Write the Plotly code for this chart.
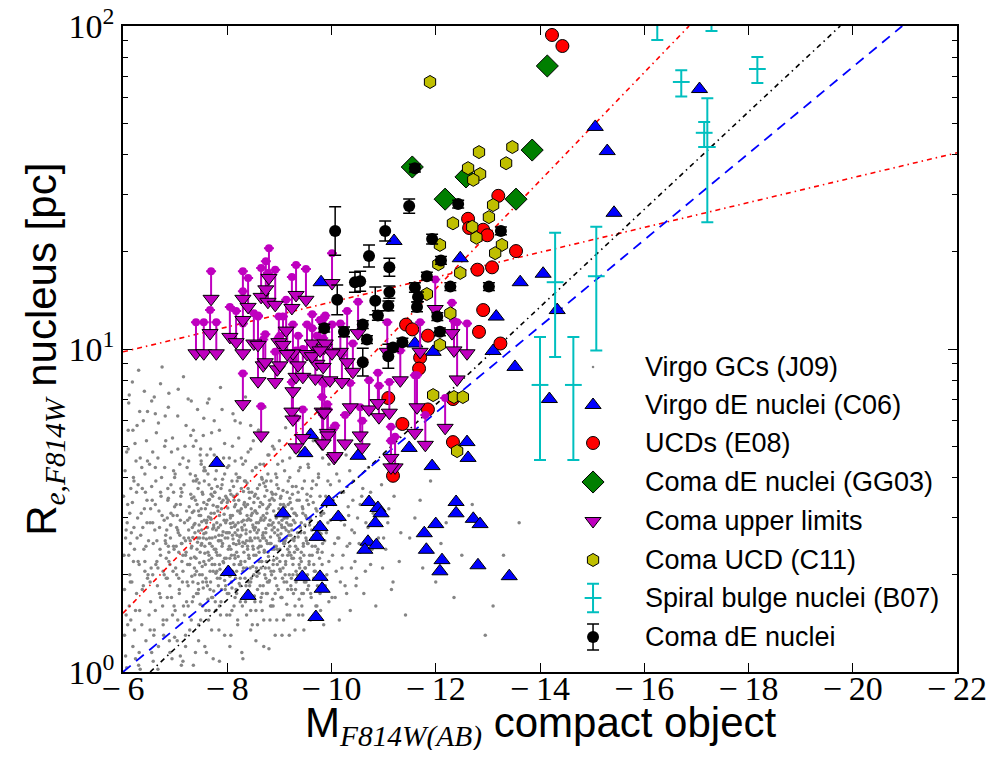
import plotly.graph_objects as go

# ---------------- data ----------------
# Virgo GCs (J09) - grey cloud (part 1)
gc_mag = [
 -6.05,-6.08,-6.1,-6.12,-6.15,-6.18,-6.2,-6.22,-6.25,-6.27,-6.3,-6.32,-6.35,-6.37,-6.4,-6.42,-6.44,-6.46,-6.48,-6.3,-6.15,-6.45,
 -6.52,-6.53,-6.55,-6.57,-6.58,-6.6,-6.62,-6.63,-6.65,-6.67,-6.68,-6.7,-6.72,-6.73,-6.75,-6.77,-6.78,-6.8,-6.82,-6.84,-6.85,-6.87,-6.88,-6.9,-6.92,-6.94,-6.95,-6.97,-6.98,-6.99,
 -7.01,-7.02,-7.04,-7.05,-7.06,-7.08,-7.09,-7.1,-7.12,-7.13,-7.15,-7.16,-7.18,-7.19,-7.2,-7.22,-7.23,-7.25,-7.26,-7.28,-7.29,-7.3,-7.32,-7.33,-7.35,-7.36,-7.38,-7.39,-7.4,-7.42,-7.43,-7.45,-7.46,-7.47,-7.48,-7.49,-7.44,-7.27,
 -7.51,-7.52,-7.53,-7.54,-7.55,-7.56,-7.57,-7.58,-7.59,-7.6,-7.61,-7.62,-7.63,-7.64,-7.65,-7.66,-7.67,-7.68,-7.69,-7.7,-7.71,-7.72,-7.73,-7.74,-7.75,-7.76,-7.77,-7.78,-7.79,-7.8,-7.81,-7.82,-7.83,-7.84,-7.85,-7.86,-7.87,-7.88,-7.89,-7.9,-7.92,-7.94,-7.95,-7.97,-7.99,
 -8.01,-8.02,-8.03,-8.04,-8.05,-8.06,-8.07,-8.08,-8.09,-8.1,-8.11,-8.12,-8.13,-8.14,-8.15,-8.16,-8.17,-8.18,-8.19,-8.2,-8.21,-8.22,-8.23,-8.24,-8.25,-8.26,-8.27,-8.28,-8.29,-8.3,-8.31,-8.32,-8.33,-8.34,-8.35,-8.36,-8.37,-8.38,-8.39,-8.4,-8.41,-8.42,-8.43,-8.44,-8.45,-8.46,-8.48,-8.49,
 -8.51,-8.52,-8.53,-8.54,-8.55,-8.56,-8.57,-8.58,-8.59,-8.6,-8.61,-8.62,-8.63,-8.64,-8.65,-8.66,-8.67,-8.68,-8.69,-8.7,-8.71,-8.72,-8.73,-8.74,-8.75,-8.76,-8.77,-8.78,-8.79,-8.8,-8.81,-8.82,-8.83,-8.84,-8.85,-8.86,-8.87,-8.88,-8.89,-8.9,-8.92,-8.93,-8.95,-8.97,-8.99,
 -9.01,-9.02,-9.03,-9.05,-9.06,-9.07,-9.08,-9.1,-9.11,-9.12,-9.14,-9.15,-9.16,-9.18,-9.19,-9.2,-9.22,-9.23,-9.24,-9.26,-9.27,-9.28,-9.3,-9.31,-9.32,-9.34,-9.35,-9.37,-9.38,-9.39,-9.4,-9.42,-9.43,-9.45,-9.46,-9.47,-9.48,-9.49,
 -9.51,-9.53,-9.54,-9.56,-9.57,-9.59,-9.6,-9.62,-9.63,-9.65,-9.66,-9.68,-9.7,-9.72,-9.73,-9.75,-9.77,-9.78,-9.8,-9.82,-9.83,-9.85,-9.87,-9.89,-9.91,-9.93,-9.95,-9.98,
 -10.02,-10.04,-10.07,-10.1,-10.12,-10.15,-10.18,-10.2,-10.23,-10.26,-10.28,-10.3,-10.33,-10.36,-10.39,-10.42,-10.45,-10.48,
 -10.53,-10.58,-10.62,-10.66,-10.71,-10.75,-10.8,-10.85,-10.9,-10.96,
 -11.04,-11.1,-11.18,-11.25,-11.33,-11.42,
 -11.6,-11.75,-11.9,-12.1,-12.35,
 -12.7,-12.95,-13.3]
gc_re = [
 1.12,2.9,5.6,1.6,3.7,7.9,2.2,1.35,4.5,2.6,1.05,6.4,3.1,1.8,2.4,4.1,1.25,3.4,2.0,8.6,1.45,5.2,
 1.9,3.2,1.15,4.8,2.5,7.1,1.55,3.9,2.2,1.02,5.9,2.8,1.7,3.5,8.8,2.05,1.3,4.3,2.65,1.45,3.0,6.6,2.35,1.85,3.8,1.1,5.3,2.45,1.6,4.0,
 2.1,3.3,1.25,6.2,2.7,1.75,4.4,2.95,1.05,3.6,2.3,8.2,1.5,5.0,2.55,3.15,1.9,7.0,2.75,1.35,4.1,2.25,3.45,1.65,5.6,2.85,2.0,1.15,3.9,2.4,6.5,1.8,3.05,2.6,4.7,1.45,3.7,2.15,
 2.5,3.6,1.6,5.4,2.2,2.95,1.2,4.2,2.7,1.9,3.3,6.8,2.35,1.45,3.8,2.6,2.05,4.9,3.1,1.7,2.45,3.5,1.1,2.85,6.0,2.15,3.95,1.55,2.75,3.25,1.95,4.5,2.55,1.35,3.05,2.3,7.6,3.7,1.8,2.65,3.4,2.0,5.1,2.9,1.5,
 2.6,3.4,1.75,4.6,2.25,3.0,1.3,2.8,3.9,2.05,6.3,2.5,1.6,3.25,2.7,1.95,4.1,2.35,3.55,1.45,2.9,5.3,2.15,3.15,1.85,2.65,3.7,1.15,2.45,4.4,2.95,1.7,3.35,2.2,7.1,2.75,1.5,3.05,2.4,4.8,1.9,3.6,2.55,2.1,5.8,3.2,1.4,2.85,
 2.3,3.5,1.65,2.8,4.3,2.05,3.1,1.4,2.6,5.6,2.2,3.8,1.85,2.95,2.45,4.0,1.55,3.3,2.7,1.2,2.35,6.6,3.0,1.95,2.55,3.65,1.75,4.7,2.85,2.1,3.4,1.45,2.5,3.9,2.0,2.75,5.0,1.6,3.15,2.4,1.3,3.55,2.25,4.4,2.9,
 2.4,3.3,1.7,2.8,4.5,2.1,1.45,3.0,2.55,5.7,1.9,3.6,2.3,2.85,1.3,4.0,2.65,1.8,3.2,2.15,2.95,6.2,1.6,2.45,3.75,2.0,2.7,1.5,3.4,4.8,2.25,2.9,1.75,3.1,2.5,1.35,3.9,2.1,
 2.6,3.4,1.8,4.3,2.2,2.95,1.45,3.7,2.45,5.2,1.95,2.8,3.2,1.6,2.35,4.0,2.7,1.75,3.05,2.15,4.6,1.4,2.55,3.5,2.0,2.9,1.65,3.8,
 2.3,3.3,1.7,4.1,2.6,1.45,2.95,2.1,3.6,1.85,4.7,2.45,3.05,1.55,2.75,3.9,2.2,1.95,
 2.5,3.5,1.75,2.9,4.3,2.15,3.1,1.6,2.6,3.8,
 2.4,3.2,1.9,4.1,2.7,1.5,
 3.0,2.1,3.9,2.5,1.7,
 3.3,1.3,2.3]

# Virgo GCs (J09) - grey cloud (part 2: dense core, left wing, right tail)
gc_mag2 = [
 -7.31,-7.32,-7.33,-7.34,-7.35,-7.36,-7.37,-7.38,-7.39,-7.41,-7.42,-7.43,-7.44,-7.45,-7.46,-7.47,-7.48,-7.49,-7.5,-7.5,
 -7.51,-7.52,-7.53,-7.54,-7.55,-7.56,-7.57,-7.58,-7.59,-7.6,-7.61,-7.62,-7.63,-7.64,-7.65,-7.66,-7.67,-7.68,-7.69,-7.7,
 -7.71,-7.72,-7.73,-7.74,-7.75,-7.76,-7.77,-7.78,-7.79,-7.8,-7.81,-7.82,-7.83,-7.84,-7.85,-7.86,-7.87,-7.88,-7.89,-7.9,
 -7.91,-7.92,-7.93,-7.94,-7.95,-7.96,-7.97,-7.98,-7.99,-8.0,-8.01,-8.02,-8.03,-8.04,-8.05,-8.06,-8.07,-8.08,-8.09,-8.1,
 -8.11,-8.12,-8.13,-8.14,-8.15,-8.16,-8.17,-8.18,-8.19,-8.2,-8.21,-8.22,-8.23,-8.24,-8.25,-8.26,-8.27,-8.28,-8.29,-8.3,
 -8.31,-8.32,-8.33,-8.34,-8.35,-8.36,-8.37,-8.38,-8.39,-8.4,-8.41,-8.42,-8.43,-8.44,-8.45,-8.46,-8.47,-8.48,-8.49,-8.5,
 -8.51,-8.52,-8.53,-8.54,-8.55,-8.56,-8.57,-8.58,-8.59,-8.6,-8.61,-8.62,-8.63,-8.64,-8.65,-8.66,-8.67,-8.68,-8.69,-8.7,
 -8.71,-8.72,-8.73,-8.74,-8.75,-8.76,-8.77,-8.78,-8.79,-8.8,-8.81,-8.82,-8.83,-8.84,-8.85,-8.86,-8.87,-8.88,-8.89,-8.9,
 -8.91,-8.92,-8.93,-8.94,-8.95,-8.96,-8.97,-8.98,-8.99,-9.0,-9.01,-9.02,-9.03,-9.04,-9.05,-9.06,-9.07,-9.08,-9.09,-9.1,
 -9.11,-9.12,-9.13,-9.14,-9.15,-9.16,-9.17,-9.18,-9.19,-9.2,-9.21,-9.22,-9.23,-9.24,-9.25,-9.26,-9.27,-9.28,-9.29,-9.3,
 -9.32,-9.34,-9.36,-9.38,-9.4,-9.42,-9.44,-9.46,-9.48,-9.5,-9.52,-9.54,-9.56,-9.58,-9.6,-9.62,-9.64,-9.66,-9.68,-9.7,
 -9.72,-9.74,-9.76,-9.78,-9.8,
 -6.02,-6.04,-6.06,-6.09,-6.11,-6.13,-6.16,-6.19,-6.21,-6.23,-6.26,-6.28,-6.31,-6.33,-6.36,-6.38,-6.41,-6.43,-6.47,-6.49,
 -6.51,-6.54,-6.56,-6.59,-6.61,-6.64,-6.66,-6.69,-6.71,-6.74,-6.76,-6.79,-6.81,-6.83,-6.86,-6.89,-6.91,-6.93,-6.96,-6.99,
 -7.0,-7.03,-7.05,-7.07,-7.11,-7.14,-7.17,-7.21,-7.24,-7.28,-6.07,-6.24,-6.39,-6.58,-6.72,-6.9,-7.06,-7.2,-7.31,-7.15,
 -6.14,-6.29,-6.46,-6.62,-6.79,-6.97,-7.12,-7.26,-6.53,-6.85,
 -9.82,-9.85,-9.88,-9.9,-9.93,-9.95,-9.98,-10.01,-10.03,-10.06,-10.09,-10.11,-10.14,-10.17,-10.19,-10.22,-10.25,-10.29,-10.32,-10.35,
 -10.38,-10.41,-10.44,-10.47,-10.5,-10.55,-10.6,-10.65,-10.7,-10.78,-10.88,-10.98,-11.08,-11.2,-11.3,
 -7.1,-7.35,-7.6,-7.85,-8.05,-8.3,-8.55,-8.8,-9.05,-9.3,
 -7.4,-7.55,-7.7,-7.9,-8.1,-8.25,-8.45,-8.6,-8.8,-9.0,-9.2,-9.4]
gc_re2 = [
 2.42,1.98,3.12,2.61,1.71,3.48,2.27,2.88,4.05,2.05,3.3,2.52,1.88,2.73,3.85,2.18,1.62,3.05,2.47,4.4,
 2.92,2.12,3.55,1.82,2.68,3.9,2.33,3.2,1.95,2.58,4.7,2.8,1.68,3.02,2.22,3.42,2.5,1.9,2.97,3.7,
 2.15,2.77,3.28,1.78,2.4,3.6,2.62,2.02,4.2,2.9,2.3,3.15,1.85,2.55,3.45,2.08,2.85,1.65,3.35,2.45,
 3.95,2.72,2.18,3.08,1.92,2.6,3.5,2.25,2.95,1.75,3.22,2.4,4.35,2.7,1.98,2.88,3.55,2.3,1.82,3.05,
 2.58,3.75,2.15,2.82,1.7,3.3,2.48,2.05,3.9,2.75,2.28,3.4,1.88,2.62,3.1,2.2,4.6,2.92,1.6,2.52,
 3.62,2.35,2.85,1.95,3.25,2.68,2.1,3.85,2.45,1.78,2.98,2.25,3.45,2.72,1.9,3.05,2.55,4.2,2.12,2.8,
 3.35,1.72,2.6,3.15,2.3,2.9,1.98,3.7,2.42,2.75,2.02,3.25,2.55,1.65,3.0,2.2,3.95,2.65,1.85,2.95,
 2.38,3.5,2.1,2.78,1.75,3.1,2.5,4.1,2.28,2.85,1.92,3.3,2.62,2.05,3.6,2.4,1.68,2.9,2.22,3.4,
 2.7,1.95,3.05,2.45,3.8,2.15,2.75,1.8,3.2,2.55,2.08,3.45,2.68,1.7,2.95,2.3,3.65,2.5,1.9,2.8,
 3.25,2.15,2.6,1.62,3.0,2.4,3.9,2.72,2.0,2.45,3.35,1.85,2.85,2.25,3.55,2.58,1.75,3.1,2.35,2.9,
 2.05,3.4,2.62,1.68,2.8,2.2,3.7,2.45,1.9,3.05,2.55,2.0,3.3,2.3,1.75,2.75,3.9,2.15,2.6,1.6,
 3.15,2.4,2.02,3.5,2.68,
 2.3,4.2,1.5,3.3,6.8,2.0,2.7,1.2,3.9,5.1,1.75,3.0,2.15,4.6,1.4,2.8,7.4,3.6,1.95,2.55,
 4.4,2.1,3.4,1.3,2.75,5.5,1.85,3.15,2.4,4.0,1.6,2.95,6.2,2.25,3.7,1.25,2.6,4.8,2.05,3.25,
 1.55,2.8,4.9,2.35,3.5,1.9,2.6,5.8,2.15,3.0,1.03,1.1,6.0,1.08,7.8,1.15,7.5,1.2,6.9,1.08,
 2.5,3.8,2.9,4.3,2.0,3.6,2.5,4.5,1.65,1.7,
 2.35,3.1,1.85,2.7,3.9,2.2,2.95,1.7,3.4,2.5,2.05,3.0,2.6,1.9,3.6,2.3,2.85,1.75,3.25,2.5,
 2.1,3.4,2.7,1.85,3.0,2.35,3.7,2.05,2.8,2.4,3.3,2.1,2.9,3.5,2.2,
 1.12,1.05,1.15,1.08,1.2,1.1,1.25,1.18,1.3,1.35,
 5.2,6.1,5.5,6.5,5.0,5.9,4.9,5.6,4.7,5.2,4.6,4.3]

# Virgo GCs (J09) - grey cloud (part 3: more of the dense body)
gc_mag3 = [
 -7.02,-7.04,-7.07,-7.09,-7.11,-7.13,-7.16,-7.18,-7.21,-7.23,-7.25,-7.27,-7.29,-7.31,-7.33,-7.35,-7.37,-7.39,-7.41,-7.43,
 -7.45,-7.47,-7.49,-7.51,-7.53,-7.55,-7.57,-7.59,-7.61,-7.63,-7.65,-7.67,-7.69,-7.71,-7.73,-7.75,-7.77,-7.79,-7.81,-7.83,
 -7.85,-7.87,-7.89,-7.91,-7.93,-7.95,-7.97,-7.99,-8.01,-8.03,-8.05,-8.07,-8.09,-8.11,-8.13,-8.15,-8.17,-8.19,-8.21,-8.23,
 -8.25,-8.27,-8.29,-8.31,-8.33,-8.35,-8.37,-8.39,-8.41,-8.43,-8.45,-8.47,-8.49,-8.51,-8.53,-8.55,-8.57,-8.59,-8.61,-8.63,
 -8.65,-8.67,-8.69,-8.71,-8.73,-8.75,-8.77,-8.79,-8.81,-8.83,-8.85,-8.87,-8.89,-8.91,-8.93,-8.95,-8.97,-8.99,-9.01,-9.03,
 -9.05,-9.07,-9.09,-9.11,-9.13,-9.15,-9.17,-9.19,-9.21,-9.23,-9.25,-9.27,-9.29,-9.31,-9.33,-9.35,-9.37,-9.39,-9.41,-9.43,
 -9.45,-9.47,-9.49,-9.51,-9.53,-9.55,-9.57,-9.59,-9.61,-9.63,-9.65,-9.67,-9.69,-9.71,-9.73,-9.75,-9.77,-9.79,-9.81,-9.83,
 -6.01,-6.03,-6.05,-6.07,-6.09,-6.11,-6.13,-6.17,-6.19,-6.21,-6.24,-6.26,-6.29,-6.31,-6.34,-6.36,-6.39,-6.41,-6.44,-6.47,
 -6.5,-6.52,-6.55,-6.57,-6.6,-6.62,-6.65,-6.67,-6.7,-6.72,-6.75,-6.77,-6.8,-6.82,-6.85,-6.87,-6.9,-6.92,-6.95,-6.97,
 -6.12,-6.33,-6.55,-6.68,-6.88,-6.99,-6.2,-6.42,-6.63,-6.84,
 -7.2,-7.45,-7.7,-7.95,-8.2,-8.45,-8.7,-8.95,-9.2,-9.45,
 -7.3,-7.5,-7.65,-7.85,-8.0,-8.15,-8.35,-8.5,-8.7,-8.9,
 -9.1,-9.3,-9.55,-9.75,-9.95,-10.15,-10.35,-10.55,-10.75,-11.0,
 -11.15,-11.5,-11.7,-12.0,-12.2,-12.5,-13.1,-13.6]
gc_re3 = [
 2.45,3.05,1.95,2.65,3.7,2.2,1.6,2.9,2.35,4.3,1.85,3.25,2.55,1.45,2.8,3.9,2.1,3.4,1.75,2.6,
 3.15,2.0,4.9,2.75,1.9,3.35,2.45,1.55,2.95,4.1,2.3,1.8,3.55,2.6,2.05,3.1,1.65,2.35,3.75,2.8,
 2.15,1.5,3.2,2.5,4.6,2.25,1.85,3.45,2.7,2.0,3.65,2.4,1.55,2.9,3.4,2.25,1.8,2.65,4.0,2.5,
 1.95,3.2,2.75,2.1,3.9,1.65,2.55,3.3,2.3,1.85,2.95,3.6,2.45,2.0,3.15,1.55,2.7,3.45,2.35,4.4,
 2.1,1.75,3.05,2.6,3.75,2.2,1.9,3.25,2.5,1.6,2.85,3.55,2.05,2.45,4.1,1.85,2.65,3.1,2.2,3.5,
 1.7,2.55,3.0,2.0,2.75,1.5,3.3,2.35,2.85,1.95,3.75,2.25,2.6,1.8,3.05,2.4,4.2,2.1,2.7,1.6,
 3.2,2.3,2.85,1.9,3.55,2.5,2.15,3.0,1.7,2.6,3.35,2.05,2.45,3.8,1.85,2.9,2.25,1.55,3.1,2.5,
 3.5,1.8,2.6,4.8,1.4,2.3,3.1,1.9,5.6,2.8,1.55,3.6,2.2,1.15,2.65,4.3,1.85,3.2,2.45,6.4,
 1.5,2.9,3.75,2.0,1.35,3.3,2.55,4.6,1.75,2.3,3.05,1.4,5.0,2.5,1.95,3.45,2.15,2.85,1.5,4.2,
 7.2,1.02,6.9,1.2,7.3,1.28,4.0,2.05,2.15,2.75,
 1.3,1.25,1.35,1.3,1.4,1.35,1.45,1.45,1.5,1.5,
 5.4,4.5,7.0,5.6,4.3,6.0,4.5,5.2,4.4,4.9,
 4.2,4.8,4.4,4.1,4.4,3.9,4.2,3.3,3.6,2.6,
 1.8,2.6,3.4,1.9,2.9,2.3,1.6,2.9]

# Virgo GCs (J09) - grey cloud (part 4: filling the core)
gc_mag4 = [
 -6.81,-6.83,-6.86,-6.88,-6.91,-6.93,-6.96,-6.98,-7.0,-7.03,
 -7.05,-7.08,-7.1,-7.13,-7.15,-7.17,-7.2,-7.22,-7.24,-7.26,
 -7.28,-7.3,-7.32,-7.34,-7.36,-7.38,-7.4,-7.42,-7.44,-7.46,
 -7.48,-7.5,-7.52,-7.54,-7.56,-7.58,-7.6,-7.62,-7.64,-7.66,
 -7.68,-7.7,-7.72,-7.74,-7.76,-7.78,-7.8,-7.82,-7.84,-7.86,
 -7.88,-7.9,-7.92,-7.94,-7.96,-7.98,-8.0,-8.02,-8.04,-8.06,
 -8.08,-8.1,-8.12,-8.14,-8.16,-8.18,-8.2,-8.22,-8.24,-8.26,
 -8.28,-8.3,-8.32,-8.34,-8.36,-8.38,-8.4,-8.42,-8.44,-8.46,
 -8.48,-8.5,-8.52,-8.54,-8.56,-8.58,-8.6,-8.62,-8.64,-8.66,
 -8.68,-8.7,-8.72,-8.74,-8.76,-8.78,-8.8,-8.82,-8.84,-8.86,
 -8.88,-8.9,-8.92,-8.94,-8.96,-8.98,-9.0,-9.02,-9.04,-9.06,
 -9.08,-9.1,-9.12,-9.14,-9.16,-9.18,-9.2,-9.22,-9.24,-9.26,
 -9.28,-9.3,-9.32,-9.34,-9.36,-9.38,-9.4,-9.42,-9.44,-9.46,
 -9.48,-9.5,-9.52,-9.54,-9.56,-9.58,-9.6,-9.63,-9.66,-9.69,
 -6.03,-6.06,-6.1,-6.14,-6.18,-6.22,-6.27,-6.32,-6.37,-6.42,
 -6.47,-6.52,-6.57,-6.62,-6.67,-6.72,-6.77,-6.82,-6.87,-6.92,
 -7.05,-7.25,-7.45,-7.65,-7.85,-8.05,-8.25,-8.45,-8.65,-8.85,
 -7.15,-7.35,-7.55,-7.75,-7.95,-8.15,-8.35,-8.55,-8.75,-8.95]
gc_re4 = [
 2.55,1.95,3.4,2.2,2.85,1.7,3.05,2.4,4.1,2.0,
 2.75,1.8,3.3,2.5,2.05,3.8,2.3,1.65,2.95,2.6,
 2.15,3.55,2.45,1.9,3.15,2.7,2.25,3.95,1.75,2.85,
 2.35,3.2,2.0,2.6,4.3,2.15,2.9,1.85,3.4,2.5,
 3.0,2.25,1.7,2.8,3.6,2.4,2.05,3.25,2.65,1.95,
 2.55,3.8,2.2,2.95,1.8,2.7,3.35,2.1,2.45,3.05,
 1.9,2.65,3.5,2.3,2.85,1.75,3.15,2.55,4.0,2.15,
 2.8,2.05,3.3,2.5,1.85,2.95,3.7,2.25,2.6,1.95,
 3.1,2.4,2.75,3.55,2.1,1.8,2.9,2.45,3.35,2.2,
 2.6,3.85,2.0,2.7,3.2,2.35,1.9,2.95,2.5,3.45,
 2.15,2.8,1.75,3.0,2.4,3.7,2.6,2.05,2.85,1.95,
 3.3,2.5,2.2,2.9,1.8,2.65,3.45,2.3,2.75,2.0,
 2.55,3.1,1.9,2.4,3.6,2.15,2.8,2.35,3.25,1.75,
 2.7,2.1,3.0,2.5,1.85,2.85,3.5,2.3,2.65,2.05,
 1.3,2.75,4.9,1.9,3.35,2.4,5.8,1.55,3.7,2.2,
 4.5,1.35,2.9,6.3,2.1,3.6,1.45,5.2,2.45,3.1,
 1.45,1.6,1.4,1.55,1.6,1.5,1.65,1.55,1.7,1.6,
 4.6,5.0,4.2,4.7,4.1,4.5,3.9,4.3,3.9,4.0]

# Virgo dE nuclei (C06)
c06_mag = [-17.06,-15.06,-15.29,-15.42,-14.06,-13.62,-14.33,-13.16,-12.47,-11.2,-9.8,-13.1,-13.52,-14.18,-12.6,-12.62,
           -11.6,-11.95,-11.49,-11.93,-10.51,-7.8,-9.07,-8.02,-8.4,-9.49,-9.6,-9.95,-10.13,-9.78,-9.72,-9.44,-9.78,-9.82,
           -9.7,-10.72,-10.89,-10.95,-10.84,-10.7,-10.64,-10.86,-12.39,-12.39,-12.0,-11.78,-11.82,-12.12,-12.08,-12.72,
           -12.85,-12.81,-13.41]
c06_re = [63.8,48.7,41.0,26.4,17.1,16.1,13.2,12.6,19.1,21.6,16.1,9.86,8.8,7.0,5.15,4.6,
          10.4,9.8,4.94,4.34,4.67,4.44,3.1,2.04,1.72,4.76,5.42,3.36,3.02,2.81,2.62,1.97,1.97,1.81,
          1.48,3.36,3.22,3.1,2.89,2.53,2.39,2.47,3.36,3.1,2.87,2.69,2.39,2.22,2.05,2.98,
          2.87,2.14,1.98]

# UCDs (E08)
e08_mag = [-14.23,-14.43,-13.2,-12.62,-12.64,-12.91,-12.99,-13.54,-12.8,-13.08,-12.91,-12.83,-13.24,-12.33,-12.33,
           -11.43,-11.55,-11.85,-11.7,-11.68,-11.09,-11.85,-11.36,-11.18]
e08_re = [93.8,86.7,29.8,25.3,23.7,23.4,22.5,20.1,17.6,17.9,13.2,11.3,10.4,7.0,5.15,
          11.9,11.5,11.0,9.4,8.7,7.05,6.5,5.86,4.05]

# Coma dE nuclei (GG03)
gg03_mag = [-14.14,-13.85,-11.55,-12.58,-12.18,-13.54]
gg03_re = [75.2,41.3,36.6,34.1,29.1,29.1]

# Coma upper limits: triangle value and top of the bar
ul_mag = [-7.69,-7.67,-7.40,-7.55,-7.79,-8.05,-8.17,-8.30,-8.40,-8.30,-8.30,-8.51,-8.59,-8.30,-8.65,-8.59,-8.69,
          -8.65,-8.74,-8.80,-8.78,-8.92,-8.99,-8.96,-8.92,-9.07,-9.24,-9.32,-9.51,-9.26,-9.32,-9.26,-9.24,-9.26,
          -9.45,-9.53,-9.63,-9.72,-9.82,-9.45,-9.32,-9.82,-10.05,-9.92,-9.97,-9.86,-10.01,-10.51,-11.07,-11.32,
          -11.70,-11.99,-10.17,-10.30,-10.41,-9.88,-10.01,-9.84,-10.20,-10.36,-10.72,-10.89,-10.91,-11.11,-9.86,
          -9.93,-10.26,-10.55,-10.59,-10.07,-9.84,-11.14,-11.22,-11.14,-11.60,-11.80,-12.18,-11.64,-12.31,-12.35,
          -12.60,-12.41,-9.15,-9.36,-9.63,-9.78,-9.69,-9.01,-8.73,-9.13]
ul_re = [14.3,11.2,9.7,9.7,9.7,10.9,10.5,14.3,13.5,12.3,9.7,10.4,10.3,6.75,5.4,7.95,8.9,
         14.5,15.3,16.6,14.0,13.7,10.5,8.65,7.9,10.3,13.4,14.7,14.2,9.7,8.2,7.4,6.4,6.05,
         8.2,9.65,10.4,9.0,6.4,5.3,4.96,5.1,4.6,5.5,8.0,10.1,16.0,11.2,9.8,8.0,
         9.8,13.3,9.8,9.1,8.5,10.4,9.7,8.8,7.9,6.6,6.5,6.8,6.15,6.35,6.35,
         5.4,5.1,5.4,4.96,4.66,5.1,4.6,4.3,4.3,5.5,5.05,5.7,6.6,11.2,9.9,
         9.7,8.05,9.65,8.9,9.5,9.9,8.1,8.9,9.1,11.4]
ul_top = [17.4,13.2,12.1,12.1,12.1,13.5,13.1,17.4,16.6,15.1,12.0,12.9,12.7,8.4,6.65,12.6,10.7,
          17.8,18.7,20.5,17.2,17.6,12.6,10.7,9.8,12.6,16.7,18.2,17.7,11.9,9.9,9.2,7.9,7.4,
          10.0,11.9,12.8,11.0,7.9,6.5,6.1,7.1,5.7,6.75,9.8,12.5,19.8,14.0,12.1,9.9,
          12.1,16.4,12.0,13.1,10.4,12.7,11.9,10.8,9.6,7.85,8.0,8.45,7.7,7.9,7.8,
          6.5,6.25,6.6,6.0,5.8,6.25,5.75,5.35,5.2,8.3,6.25,7.05,8.3,13.9,12.2,
          12.0,12.1,11.4,11.0,11.6,12.3,9.9,11.0,11.1,14.2]

# Coma UCD (C11)
c11_mag = [-11.89,-12.83,-13.47,-13.35,-12.62,-12.85,-12.72,-13.1,-13.02,-12.33,-12.7,-12.78,-13.27,-13.14,
           -12.08,-12.05,-12.47,-11.83,-12.28,-12.08,-11.95,-12.35,-12.52,-12.41]
c11_re = [67.1,40.7,42.2,37.6,36.3,34.8,33.4,27.9,25.6,24.5,23.9,22.1,21.0,19.8,
          21.0,18.3,17.2,14.8,12.9,10.3,7.2,7.1,7.1,4.83]

# Spiral bulge nuclei (B07): value, upper end, lower end
b07_mag = [-16.25,-17.29,-16.71,-18.17,-17.21,-17.15,-14.0,-14.29,-14.64,-15.08]
b07_re = [105,104,67.1,73.6,42.2,46.7,7.74,16.1,7.74,16.8]
b07_hi = [120,112,72.9,80.2,59.8,50.4,10.9,22.9,10.9,23.9]
b07_lo = [90.5,96.5,60.5,66.6,24.7,42.2,4.53,9.44,4.53,9.9]

# Coma dE nuclei (this work), error in dex
coma_mag = [-11.6,-11.49,-12.43,-10.07,-11.03,-13.25,-11.93,-10.72,-12.1,-11.11,-11.83,-10.45,-10.55,-11.6,
            -12.28,-13.02,-11.11,-11.66,-10.11,-10.84,-11.09,-11.64,-10.89,-12.03,-9.86,-10.24,-10.6,-10.68,
            -11.36,-11.18,-12.08,-10.6,-11.09]
coma_re = [36.3,27.7,28.1,23.2,23.2,23.2,21.9,19.4,18.8,17.9,16.8,16.1,16.2,15.5,
           15.6,15.6,15.0,14.5,14.2,14.1,13.6,13.5,12.7,12.6,11.6,11.3,11.9,10.7,
           10.5,10.1,11.3,9.1,9.5]
coma_err_dex = [0.012,0.022,0.012,0.075,0.031,0.012,0.015,0.034,0.012,0.028,0.012,0.031,0.031,0.015,
                0.012,0.012,0.019,0.015,0.046,0.043,0.015,0.015,0.015,0.012,0.012,0.015,0.012,0.012,
                0.012,0.012,0.012,0.043,0.037]

# model relations (end points)
red_steep_mag = [-6.0, -16.86]; red_steep_re = [1.52, 100.0]
red_flat_mag = [-6.0, -22.0]; red_flat_re = [9.8, 40.5]
black_mag = [-6.52, -19.76]; black_re = [1.0, 100.0]
blue_mag = [-6.0, -20.95]; blue_re = [1.0, 100.0]

x_ticks = [-6, -8, -10, -12, -14, -16, -18, -20, -22]
x_ticktext = ["\u2212\u2009" + str(abs(v)) for v in x_ticks]
y_ticks = [1, 10, 100]
y_ticktext = ["10<sup>0</sup>", "10<sup>1</sup>", "10<sup>2</sup>"]

legend_labels = ["Virgo GCs (J09)", "Virgo dE nuclei (C06)", "UCDs (E08)", "Coma dE nuclei (GG03)",
                 "Coma upper limits", "Coma UCD (C11)", "Spiral bulge nuclei (B07)", "Coma dE nuclei"]

# ---------------- styles ----------------
BLUE = "#0000FF"; RED = "#FF0000"; GREEN = "#007F00"; MAG = "#BF00BF"; YEL = "#BFBF00"; CYAN = "#00BFBF"
GREY = "#858585"
EDGE = dict(color="black", width=1)

fig = go.Figure()

fig.add_trace(go.Scatter(x=gc_mag + gc_mag2 + gc_mag3 + gc_mag4, y=gc_re + gc_re2 + gc_re3 + gc_re4,
                         mode="markers", marker=dict(size=3.5, color=GREY, line=dict(width=0))))

for mx, ry, col, dash, w in [(red_steep_mag, red_steep_re, RED, "5px,4px,1.5px,4px", 1.6),
                             (red_flat_mag, red_flat_re, RED, "5px,4px,1.5px,4px", 1.6),
                             (black_mag, black_re, "black", "5px,4px,1.5px,4px", 1.6),
                             (blue_mag, blue_re, BLUE, "10px,7px", 1.8)]:
    fig.add_trace(go.Scatter(x=mx, y=ry, mode="lines", line=dict(color=col, width=w, dash=dash)))

fig.add_trace(go.Scatter(x=c06_mag, y=c06_re, mode="markers",
                         marker=dict(symbol="triangle-up", size=14, color=BLUE, line=EDGE)))
fig.add_trace(go.Scatter(x=e08_mag, y=e08_re, mode="markers",
                         marker=dict(symbol="circle", size=13, color=RED, line=EDGE)))
fig.add_trace(go.Scatter(x=gg03_mag, y=gg03_re, mode="markers",
                         marker=dict(symbol="diamond", size=17, color=GREEN, line=EDGE)))

ul_minus = [t - r for t, r in zip(ul_top, ul_re)]
fig.add_trace(go.Scatter(x=ul_mag, y=ul_top, mode="markers",
                         marker=dict(symbol="circle", size=8, color=MAG, line=dict(width=0)),
                         error_y=dict(type="data", symmetric=False, array=[0] * len(ul_top),
                                      arrayminus=ul_minus, color=MAG, thickness=2, width=5)))
fig.add_trace(go.Scatter(x=ul_mag, y=ul_re, mode="markers",
                         marker=dict(symbol="triangle-down", size=14, color=MAG, line=EDGE)))

fig.add_trace(go.Scatter(x=c11_mag, y=c11_re, mode="markers",
                         marker=dict(symbol="hexagon", size=13, color=YEL, line=EDGE)))

fig.add_trace(go.Scatter(x=b07_mag, y=b07_re, mode="markers",
                         marker=dict(symbol="line-ew", size=12, color=CYAN, line=dict(color=CYAN, width=2)),
                         error_y=dict(type="data", symmetric=False,
                                      array=[h - v for h, v in zip(b07_hi, b07_re)],
                                      arrayminus=[v - l for v, l in zip(b07_re, b07_lo)],
                                      color=CYAN, thickness=2, width=6)))

coma_plus = [r * (10 ** d - 1) for r, d in zip(coma_re, coma_err_dex)]
coma_minus = [r * (1 - 10 ** (-d)) for r, d in zip(coma_re, coma_err_dex)]
fig.add_trace(go.Scatter(x=coma_mag, y=coma_re, mode="markers",
                         marker=dict(symbol="circle", size=12, color="black", line=dict(width=0)),
                         error_y=dict(type="data", symmetric=False, array=coma_plus, arrayminus=coma_minus,
                                      color="black", thickness=1.5, width=6)))

# ---------------- hand-made legend (overlay axes in [0,1]) ----------------
leg_x = 0.5636
leg_tx = 0.6235
leg_y = [0.4721, 0.4133, 0.3545, 0.2941, 0.2337, 0.1734, 0.1146, 0.0542]
leg_markers = [dict(symbol="circle", size=2.6, color=GREY, line=dict(width=0)),
               dict(symbol="triangle-up", size=14, color=BLUE, line=EDGE),
               dict(symbol="circle", size=13, color=RED, line=EDGE),
               dict(symbol="diamond", size=17, color=GREEN, line=EDGE),
               dict(symbol="triangle-down", size=14, color=MAG, line=EDGE),
               dict(symbol="hexagon", size=13, color=YEL, line=EDGE),
               dict(symbol="line-ew", size=12, color=CYAN, line=dict(color=CYAN, width=2)),
               dict(symbol="circle", size=12, color="black", line=dict(width=0))]
for i, mk in enumerate(leg_markers):
    err = None
    if i == 6:
        err = dict(type="constant", value=0.022, color=CYAN, thickness=2, width=6)
    if i == 7:
        err = dict(type="constant", value=0.02, color="black", thickness=1.5, width=6)
    fig.add_trace(go.Scatter(x=[leg_x], y=[leg_y[i]], mode="markers", marker=mk,
                             error_y=err, xaxis="x2", yaxis="y2"))

annotations = []
for lab, yy in zip(legend_labels, leg_y):
    annotations.append(dict(x=leg_tx, y=yy, xref="paper", yref="paper", text=lab, showarrow=False,
                            xanchor="left", yanchor="middle",
                            font=dict(family="Liberation Sans", size=27, color="black")))

annotations.append(dict(x=0.5, y=-0.084, xref="paper", yref="paper", showarrow=False,
                        xanchor="center", yanchor="middle",
                        text="M<sub><span style=\"font-family:'Liberation Serif'\"><i>F814W(AB)</i></span></sub> compact object",
                        font=dict(family="Liberation Sans", size=42, color="black")))
annotations.append(dict(x=-0.095, y=0.5, xref="paper", yref="paper", showarrow=False, textangle=-90,
                        xanchor="center", yanchor="middle",
                        text="R<sub><span style=\"font-family:'Liberation Serif'\"><i>e,F814W</i></span></sub> nucleus [pc]",
                        font=dict(family="Liberation Sans", size=42, color="black")))

minor_vals = [v * m for m in (1, 10) for v in range(2, 10)]

# the page body adds an 8 px margin, so the figure is drawn 8 px right / down
fig.update_layout(
    width=979, height=742,
    margin=dict(l=115, r=30, t=18, b=78),
    plot_bgcolor="white", paper_bgcolor="white",
    showlegend=False,
    annotations=annotations,
    xaxis=dict(range=[-6, -22], tickvals=x_ticks, ticktext=x_ticktext, ticks="inside", ticklen=9,
               tickwidth=1, tickcolor="black", showline=True, linecolor="black", linewidth=1.5,
               mirror="ticks", showgrid=False, zeroline=False, automargin=False, ticklabelstandoff=-15,
               ticklabeloverflow="allow",
               tickfont=dict(family="Liberation Serif", size=34, color="black")),
    yaxis=dict(type="log", range=[0, 2], tickvals=y_ticks, ticktext=y_ticktext, ticks="inside", ticklen=9,
               tickwidth=1, tickcolor="black", showline=True, linecolor="black", linewidth=1.5,
               mirror="ticks", showgrid=False, zeroline=False, automargin=False,
               ticklabeloverflow="allow",
               minor=dict(tickvals=minor_vals, ticks="inside", ticklen=5, tickcolor="black", tickwidth=1,
                          showgrid=False),
               tickfont=dict(family="Liberation Serif", size=34, color="black")),
    xaxis2=dict(overlaying="x", range=[0, 1], visible=False, fixedrange=True),
    yaxis2=dict(overlaying="y", range=[0, 1], visible=False, fixedrange=True),
)

fig.write_html("out.html")
